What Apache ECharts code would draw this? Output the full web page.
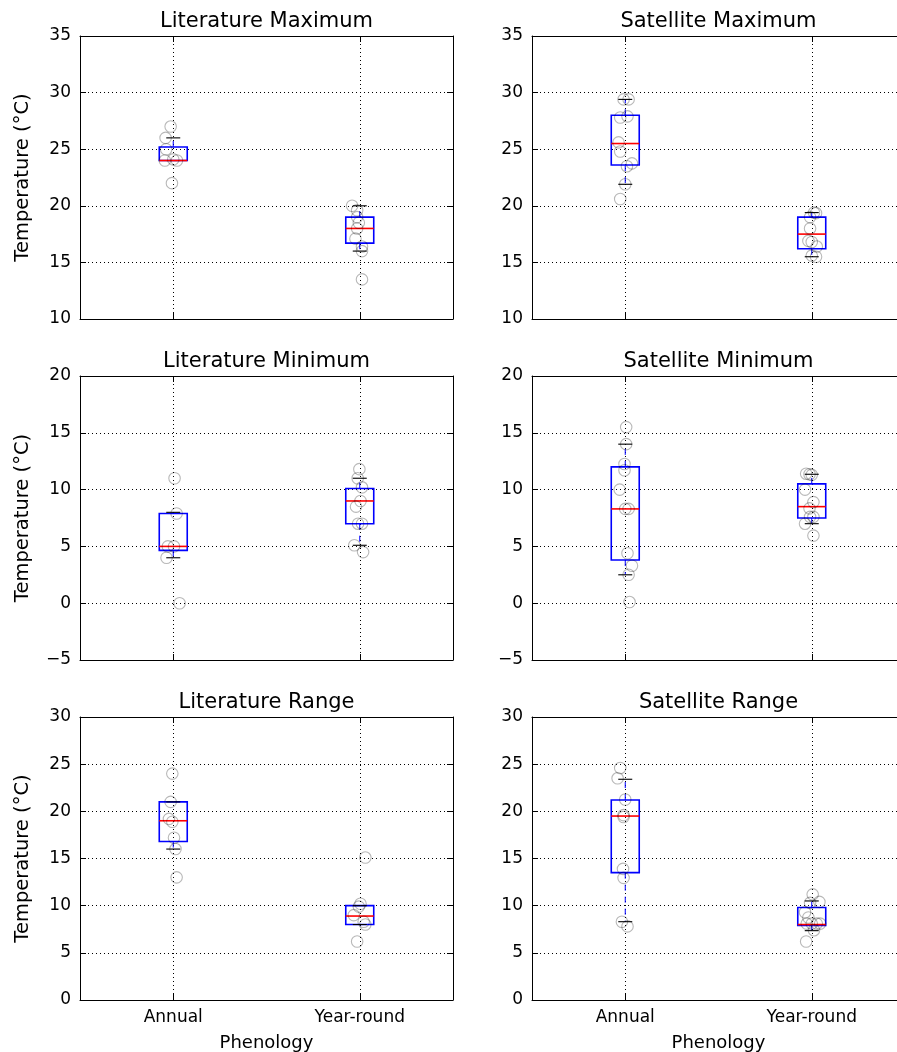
<!DOCTYPE html>
<html><head><meta charset="utf-8">
<script src="https://cdn.jsdelivr.net/npm/echarts@6/dist/echarts.min.js"></script>
<style>html,body{margin:0;padding:0;background:#fff}#c{width:897px;height:1052px}</style>
</head><body><div id="c"></div>
<script>
const categories = ['Annual', 'Year-round'];
const categoryPositions = [1, 2];
const panelTitles = ['Literature Maximum', 'Satellite Maximum', 'Literature Minimum', 'Satellite Minimum', 'Literature Range', 'Satellite Range'];
const yRanges = [[10, 35], [10, 35], [-5, 20], [-5, 20], [0, 30], [0, 30]];
const yLabel = 'Temperature (°C)';
const xLabel = 'Phenology';

// box stats: [position, lower whisker, Q1, median, Q3, upper whisker]
const litMaxBoxes = [[1, 24.0, 24.0, 24.0, 25.2, 26.0], [2, 16.0, 16.7, 18.0, 19.0, 20.0]];
const satMaxBoxes = [[1, 21.9, 23.6, 25.5, 28.0, 29.4], [2, 15.5, 16.2, 17.5, 19.0, 19.4]];
const litMinBoxes = [[1, 4.0, 4.65, 5.0, 7.9, 8.0], [2, 5.1, 7.0, 9.0, 10.1, 11.0]];
const satMinBoxes = [[1, 2.5, 3.8, 8.3, 12.0, 14.0], [2, 7.0, 7.5, 8.5, 10.5, 11.35]];
const litRangeBoxes = [[1, 16.0, 16.8, 19.0, 21.0, 21.0], [2, 8.0, 8.0, 8.9, 10.0, 10.0]];
const satRangeBoxes = [[1, 8.3, 13.5, 19.5, 21.2, 23.4], [2, 7.35, 7.9, 8.0, 9.8, 10.5]];

// individual observations: [jittered position, value]
const litMaxPoints = [[0.986, 27.0], [0.959, 26.0], [0.962, 25.0], [0.955, 24.0], [1.02, 24.0], [1.0, 24.1], [0.993, 22.0],
  [1.959, 20.0], [1.986, 19.6], [1.986, 19.0], [1.995, 18.5], [1.986, 18.0], [1.977, 17.1], [2.012, 16.4], [2.012, 16.0], [2.012, 13.5]];
const satMaxPoints = [[0.991, 29.4], [1.018, 29.4], [0.973, 27.8], [1.012, 27.9], [0.964, 25.6], [0.973, 24.8], [1.009, 23.5], [1.036, 23.75], [1.0, 21.9], [0.973, 20.6],
  [2.012, 19.4], [2.023, 19.35], [1.991, 19.0], [1.991, 18.0], [1.982, 16.9], [2.0, 16.8], [2.027, 16.4], [2.023, 15.5], [2.0, 15.6]];
const litMinPoints = [[1.007, 11.0], [1.018, 7.9], [0.971, 5.0], [1.004, 5.0], [0.964, 4.0], [1.034, 0.0],
  [1.998, 11.8], [1.989, 11.0], [2.012, 10.2], [2.004, 9.0], [1.98, 8.5], [1.991, 7.0], [2.012, 7.0], [1.971, 5.1], [2.018, 4.5]];
const satMinPoints = [[1.005, 15.5], [1.005, 14.0], [0.996, 12.25], [0.996, 11.7], [0.97, 10.0], [1.0, 8.3], [1.018, 8.3], [1.012, 4.4], [1.036, 3.3], [1.018, 2.5], [1.023, 0.1],
  [1.97, 11.4], [1.988, 11.35], [2.0, 11.3], [1.964, 10.0], [2.009, 8.9], [1.988, 8.35], [1.991, 7.6], [2.009, 7.6], [1.964, 7.0], [2.009, 5.95]];
const litRangePoints = [[0.995, 24.0], [0.986, 21.0], [0.977, 19.2], [0.995, 18.9], [1.004, 17.2], [1.012, 16.0], [1.018, 13.0],
  [2.03, 15.1], [2.004, 10.2], [1.995, 9.9], [1.968, 9.0], [2.021, 8.3], [2.03, 8.0], [1.986, 6.2]];
const satRangePoints = [[0.973, 24.6], [0.959, 23.5], [1.0, 21.25], [0.991, 19.6], [0.991, 19.4], [0.988, 13.9], [0.991, 12.95], [0.982, 8.3], [1.012, 7.8],
  [2.005, 11.2], [2.041, 10.4], [1.991, 10.3], [1.964, 9.3], [1.982, 8.75], [1.973, 8.1], [2.0, 8.1], [2.027, 8.1], [2.045, 8.1], [2.012, 7.4], [1.97, 6.2]];

const allBoxes = [litMaxBoxes, satMaxBoxes, litMinBoxes, satMinBoxes, litRangeBoxes, satRangeBoxes];
const allPoints = [litMaxPoints, satMaxPoints, litMinPoints, satMinPoints, litRangePoints, satRangePoints];

const FONT = 'DejaVu Sans';
const BOX_W = 0.15;
const colLeft = [80, 532];
const rowTop = [36, 376, 717];
const rowH = [283, 284, 283];
const PW = 373;

function fmtNum(v) { return v < 0 ? '\u2212' + Math.abs(v) : String(v); }

function renderBox(params, api) {
  const x = api.value(0);
  const lo = api.value(1), q1 = api.value(2), med = api.value(3), q3 = api.value(4), hi = api.value(5);
  const hw = api.size([BOX_W, 0])[0] / 2;
  const cw = hw / 2;
  const pLo = api.coord([x, lo]), pQ1 = api.coord([x, q1]), pMed = api.coord([x, med]), pQ3 = api.coord([x, q3]), pHi = api.coord([x, hi]);
  const cx = pMed[0];
  const children = [];
  const wStyle = { stroke: '#0000ff', lineWidth: 1, lineDash: [6, 6], fill: null };
  if (pHi[1] < pQ3[1]) children.push({ type: 'line', shape: { x1: cx, y1: pQ3[1], x2: cx, y2: pHi[1] }, style: wStyle });
  if (pLo[1] > pQ1[1]) children.push({ type: 'line', shape: { x1: cx, y1: pQ1[1], x2: cx, y2: pLo[1] }, style: wStyle });
  children.push({ type: 'rect', shape: { x: cx - hw, y: pQ3[1], width: 2 * hw, height: pQ1[1] - pQ3[1] }, style: { stroke: '#0000ff', lineWidth: 1.6, fill: null } });
  children.push({ type: 'line', shape: { x1: cx - cw, y1: pHi[1], x2: cx + cw, y2: pHi[1] }, style: { stroke: '#000', lineWidth: 1.1 } });
  children.push({ type: 'line', shape: { x1: cx - cw, y1: pLo[1], x2: cx + cw, y2: pLo[1] }, style: { stroke: '#000', lineWidth: 1.1 } });
  children.push({ type: 'line', shape: { x1: cx - hw, y1: pMed[1], x2: cx + hw, y2: pMed[1] }, style: { stroke: '#ff0000', lineWidth: 1.6 } });
  return { type: 'group', children: children };
}

const grids = [], xAxes = [], yAxes = [], series = [], titles = [];
for (let i = 0; i < 6; i++) {
  const r = Math.floor(i / 2), c = i % 2;
  grids.push({ left: colLeft[c], top: rowTop[r], width: PW, height: rowH[r], containLabel: false, outerBoundsMode: 'none' });
  const dotted = { show: true, lineStyle: { color: '#000', width: 1, type: [1, 3] } };
  xAxes.push({
    type: 'value', gridIndex: i, min: 0.5, max: 2.5, position: 'bottom',
    axisLine: { show: true, onZero: false, lineStyle: { color: '#000', width: 1 } },
    axisTick: { show: true, inside: true, length: 6, customValues: categoryPositions, lineStyle: { color: '#000' } },
    axisLabel: { show: r === 2, customValues: categoryPositions, margin: 9, color: '#000', fontFamily: FONT, fontSize: 17,
      formatter: v => categories[Math.round(v) - 1] },
    splitLine: dotted,
    name: r === 2 ? xLabel : '', nameLocation: 'middle', nameGap: 34,
    nameTextStyle: { color: '#000', fontFamily: FONT, fontSize: 18 }
  });
  xAxes.push({
    type: 'value', gridIndex: i, min: 0.5, max: 2.5, position: 'top',
    axisLine: { show: true, onZero: false, lineStyle: { color: '#000', width: 1 } },
    axisTick: { show: true, inside: true, length: 6, customValues: categoryPositions, lineStyle: { color: '#000' } },
    axisLabel: { show: false }, splitLine: { show: false }
  });
  yAxes.push({
    type: 'value', gridIndex: i, min: yRanges[i][0], max: yRanges[i][1], interval: 5, position: 'left',
    axisLine: { show: true, onZero: false, lineStyle: { color: '#000', width: 1 } },
    axisTick: { show: true, inside: true, length: 6, lineStyle: { color: '#000' } },
    axisLabel: { show: true, margin: 9, color: '#000', fontFamily: FONT, fontSize: 17, formatter: fmtNum },
    splitLine: dotted,
    name: c === 0 ? yLabel : '', nameLocation: 'middle', nameGap: 47,
    nameTextStyle: { color: '#000', fontFamily: FONT, fontSize: 19.5 }
  });
  yAxes.push({
    type: 'value', gridIndex: i, min: yRanges[i][0], max: yRanges[i][1], interval: 5, position: 'right',
    axisLine: { show: true, onZero: false, lineStyle: { color: '#000', width: 1 } },
    axisTick: { show: true, inside: true, length: 6, lineStyle: { color: '#000' } },
    axisLabel: { show: false }, splitLine: { show: false }
  });
  series.push({
    type: 'custom', xAxisIndex: 2 * i, yAxisIndex: 2 * i, renderItem: renderBox,
    data: allBoxes[i], encode: { x: 0, y: [1, 2, 3, 4, 5] }, z: 3, silent: true, clip: false
  });
  series.push({
    type: 'scatter', xAxisIndex: 2 * i, yAxisIndex: 2 * i, data: allPoints[i],
    symbol: 'circle', symbolSize: 11.5, z: 4, silent: true,
    itemStyle: { color: 'rgba(0,0,0,0)', borderColor: 'rgba(0,0,0,0.28)', borderWidth: 1.1, opacity: 1 }
  });
  titles.push({
    text: panelTitles[i], left: colLeft[c] + PW / 2, top: rowTop[r] - 25, textAlign: 'center', padding: 0,
    textStyle: { color: '#000', fontFamily: FONT, fontSize: 21, fontWeight: 'normal' }
  });
}

const chart = echarts.init(document.getElementById('c'), null, { renderer: 'canvas' });
chart.setOption({
  backgroundColor: '#fff', animation: false,
  title: titles, grid: grids, xAxis: xAxes, yAxis: yAxes, series: series,
  textStyle: { fontFamily: FONT }
});
</script></body></html>
